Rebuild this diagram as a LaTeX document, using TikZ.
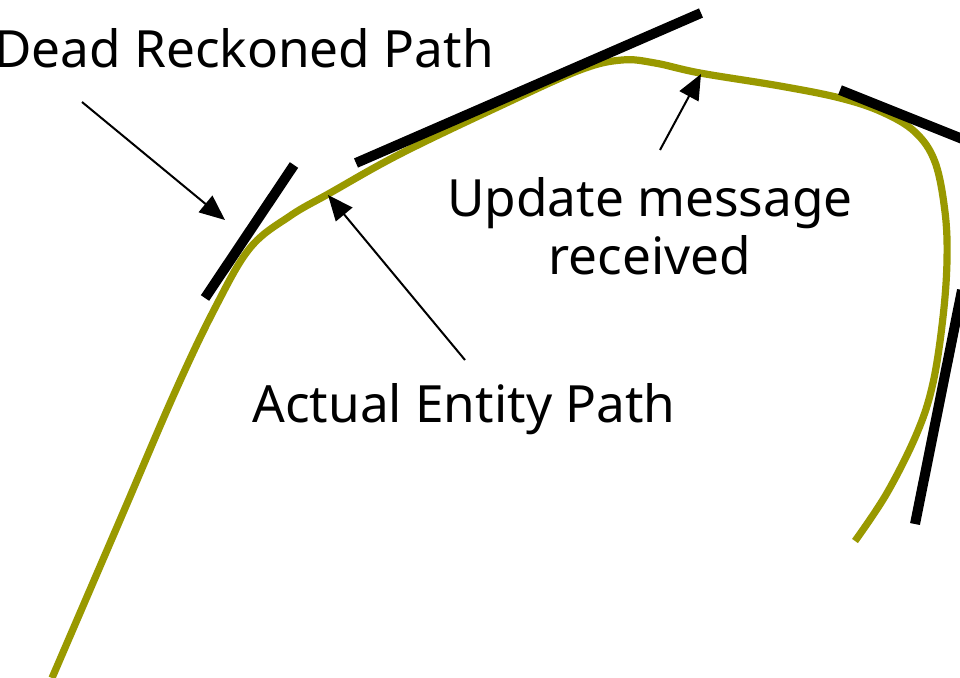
\documentclass[tikz,border=0pt]{standalone}
\usepackage{fontspec}
\setmainfont{Noto Sans}
\usetikzlibrary{arrows.meta}
\definecolor{pathgreen}{HTML}{999900}
\tikzset{
  actual/.style={draw=pathgreen, line width=5.4pt},
  deadrec/.style={draw=black, line width=7.5pt},
  pointer/.style={draw=black, line width=1.5pt, -{Triangle[length=19pt,width=16pt]}},
  lbl/.style={font=\fontsize{38.5}{45}\selectfont, anchor=base, inner sep=0pt, align=center}
}
\begin{document}
\begin{tikzpicture}[x=0.75pt,y=-0.75pt]
\useasboundingbox (0,0) rectangle (960,678);
% actual entity path
\draw[actual] plot[smooth, tension=0.6] coordinates {
 (52,678) (120,520) (175,392) (215,308) (250,248) (290,216) (330,193)
 (400,154) (500,106) (580,70) (622,60) (655,63) (700,73) (780,86)
 (840,98) (882,112) (915,132) (935,162) (945,212) (947,260) (943,317)
 (933,383) (917,433) (887,493) (855,541)};
% dead reckoned segments
\draw[deadrec] (205,298) -- (294,165);
\draw[deadrec] (356,163) -- (701,13);
\draw[deadrec] (840,90) -- (965,140);
\draw[deadrec] (915,524) -- (962,290);
% labels
\node[lbl] (drp) at (244,67) {Dead Reckoned Path};
\node[lbl] (aep) at (464,422) {Actual Entity Path};
\node[lbl] (umr) at (650,274) {Update message\\[-2pt]received};
% pointer coordinates
\coordinate (drtail) at (82,102);
\coordinate (drtip) at (225,220);
\coordinate (aetail) at (465,360);
\coordinate (aetip) at (328,195);
\coordinate (umtail) at (660,150);
\coordinate (umtip) at (701,74);
\draw[pointer] (drtail) -- (drtip);
\draw[pointer] (aetail) -- (aetip);
\draw[pointer] (umtail) -- (umtip);
\end{tikzpicture}
\end{document}
